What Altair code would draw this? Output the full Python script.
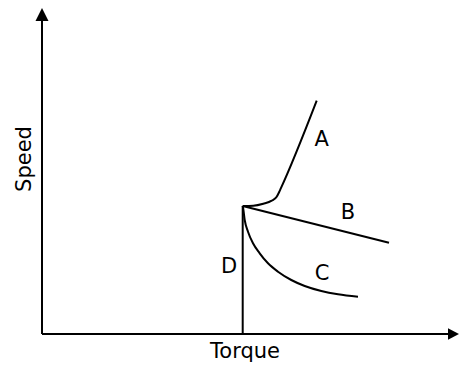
import altair as alt
import pandas as pd

# Curve A (speed rises sharply past the knee)
a_torque = [20.07, 21.13, 22.13, 22.97, 23.47, 23.73, 23.87, 27.47]
a_speed = [12.80, 12.83, 13.03, 13.33, 13.73, 14.23, 14.53, 23.33]
# Curve B (gently falling straight line)
b_torque = [20.07, 34.70]
b_speed = [12.80, 9.13]
# Curve C (falling hyperbola-like curve)
c_torque = [20.07, 20.10, 20.27, 20.60, 21.10, 21.77, 22.60, 23.60, 24.93, 26.27, 27.93, 29.60, 31.60]
c_speed = [12.80, 12.67, 11.40, 10.23, 9.07, 8.07, 7.07, 6.23, 5.40, 4.80, 4.30, 3.97, 3.73]
# Curve D (vertical line, constant torque)
d_torque = [20.07, 20.07]
d_speed = [0.0, 12.80]

# Curve labels
label_text = ["A", "B", "C", "D"]
label_torque = [27.97, 30.60, 28.00, 18.70]
label_speed = [19.40, 12.13, 6.00, 6.73]

# Axis extents (arrow ends)
x_axis_end = 40.7
y_axis_end = 31.3
x_arrow_pos = 41.15
y_arrow_pos = 31.95
x_title = "Torque"
y_title = "Speed"

X0, X1 = -3.4, 41.7
Y0, Y1 = -2.9, 32.6
xs = alt.Scale(domain=[X0, X1], nice=False, zero=False)
ys = alt.Scale(domain=[Y0, Y1], nice=False, zero=False)
FONT = "DejaVu Sans"
FS = 21

def curve_df(t, s):
    return pd.DataFrame({"torque": t, "speed": s, "i": range(len(t))})

def enc(chart):
    return chart.encode(
        x=alt.X("torque:Q", scale=xs, axis=None),
        y=alt.Y("speed:Q", scale=ys, axis=None),
        order="i:Q",
    )

curve_a = enc(alt.Chart(curve_df(a_torque, a_speed)).mark_line(
    color="black", strokeWidth=2, interpolate="monotone"))
curve_b = enc(alt.Chart(curve_df(b_torque, b_speed)).mark_line(
    color="black", strokeWidth=2))
curve_c = enc(alt.Chart(curve_df(c_torque, c_speed)).mark_line(
    color="black", strokeWidth=2, interpolate="monotone"))
curve_d = enc(alt.Chart(curve_df(d_torque, d_speed)).mark_line(
    color="black", strokeWidth=2))

axes_df = pd.DataFrame({
    "x": [0.0, 0.0], "y": [0.0, 0.0],
    "x2": [x_axis_end, 0.0], "y2": [0.0, y_axis_end],
})
axes = alt.Chart(axes_df).mark_rule(color="black", strokeWidth=2).encode(
    x=alt.X("x:Q", scale=xs, axis=None),
    y=alt.Y("y:Q", scale=ys, axis=None),
    x2="x2:Q", y2="y2:Q",
)

arrow_up = alt.Chart(pd.DataFrame({"x": [0.0], "y": [y_arrow_pos]})).mark_point(
    shape="M0,-1L1,1L-1,1Z", filled=True, size=169, color="black", opacity=1,
    strokeWidth=0).encode(
    x=alt.X("x:Q", scale=xs, axis=None), y=alt.Y("y:Q", scale=ys, axis=None))
arrow_right = alt.Chart(pd.DataFrame({"x": [x_arrow_pos], "y": [0.0]})).mark_point(
    shape="M1,0L-1,1.05L-1,-1.05Z", filled=True, size=121, color="black", opacity=1,
    strokeWidth=0).encode(
    x=alt.X("x:Q", scale=xs, axis=None), y=alt.Y("y:Q", scale=ys, axis=None))

labels = alt.Chart(pd.DataFrame({
    "t": label_text, "x": label_torque, "y": label_speed,
})).mark_text(font=FONT, fontSize=FS, color="black", align="center",
              baseline="middle").encode(
    x=alt.X("x:Q", scale=xs, axis=None), y=alt.Y("y:Q", scale=ys, axis=None),
    text="t:N")

xt = alt.Chart(pd.DataFrame({"t": [x_title], "x": [20.3], "y": [-2.4]})).mark_text(
    font=FONT, fontSize=FS, color="black", align="center", baseline="alphabetic").encode(
    x=alt.X("x:Q", scale=xs, axis=None), y=alt.Y("y:Q", scale=ys, axis=None),
    text="t:N")
yt = alt.Chart(pd.DataFrame({"t": [y_title], "x": [-1.7], "y": [17.5]})).mark_text(
    font=FONT, fontSize=FS, color="black", align="center", baseline="middle",
    angle=270).encode(
    x=alt.X("x:Q", scale=xs, axis=None), y=alt.Y("y:Q", scale=ys, axis=None),
    text="t:N")

chart = alt.layer(axes, curve_d, curve_b, curve_c, curve_a, arrow_up, arrow_right,
                  labels, xt, yt).properties(
    width=451, height=355, padding=0,
    autosize=alt.AutoSizeParams(type="none"),
).configure_view(strokeWidth=0)

chart.save("out.html", embed_options={"renderer": "svg", "actions": False})
